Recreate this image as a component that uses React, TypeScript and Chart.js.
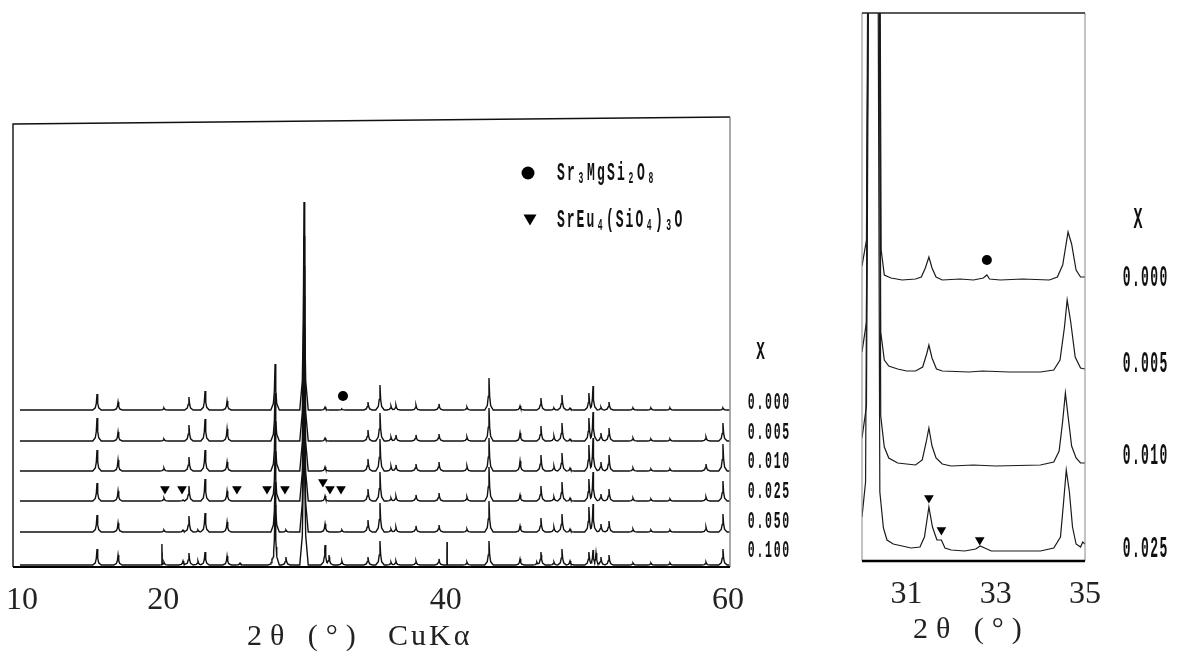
import React, { useEffect, useRef } from "react";
import { Chart, registerables } from "chart.js";

Chart.register(...registerables);

// ---------------- Left panel (2θ 10–60°) ----------------
const LEFT_SERIES_LABELS = ["0.000", "0.005", "0.010", "0.025", "0.050", "0.100"];
const LEFT_OFFSETS = [157, 126, 96, 66, 35, 2];
const LEFT_TICKS = [10, 20, 40, 60];
const LEFT_TITLE = ["2θ (°)", "CuKα"];

const PEAK_POS = [
  15.31, 16.8, 20.05, 21.4, 21.82, 22.46, 22.96, 24.52, 25.44, 27.7,
  27.92, 28.69, 29.97, 31.46, 31.74, 32.65, 34.5, 35.35, 36.13, 36.48,
  37.9, 39.53, 41.51, 43.07, 45.27, 46.47, 46.75, 47.67, 48.24, 48.81,
  50.15, 50.44, 50.65, 51.0, 51.57, 53.27, 54.54, 55.89, 58.44, 59.64,
];
const H_000 = [16, 8, 2, 0, 13, 0, 19, 9, 0, 0, 46, 0, 208, 3, 0, 1, 8, 25, 4, 5, 5, 6, 3, 32, 4, 0, 12, 2, 15, 2, 17, 24, 0, 3, 8, 2, 2, 2, 0, 2];
const H_005 = [23, 9, 2, 0, 16, 0, 22, 12, 0, 0, 48, 0, 205, 3, 0, 0, 11, 28, 4, 6, 6, 7, 4, 33, 8, 0, 15, 5, 18, 2, 23, 29, 0, 8, 13, 3, 2, 2, 4, 18];
const H_010 = [21, 11, 3, 0, 14, 0, 21, 9, 0, 0, 50, 0, 205, 4, 0, 0, 12, 32, 5, 6, 7, 9, 5, 33, 10, 0, 16, 5, 18, 3, 26, 33, 0, 9, 16, 3, 2, 2, 7, 27];
const H_025 = [18, 10, 3, 1, 15, 0, 22, 10, 0, 0, 50, 0, 205, 5, 0, 0, 12, 29, 3, 5, 6, 8, 4, 34, 6, 0, 15, 4, 19, 3, 22, 29, 0, 7, 12, 3, 2, 2, 4, 20];
const H_050 = [17, 9, 2, 2, 16, 2, 19, 10, 0, 0, 50, 2, 205, 8, 0, 2, 12, 29, 3, 5, 6, 7, 3, 31, 6, 0, 14, 5, 18, 3, 25, 28, 0, 8, 11, 3, 2, 2, 5, 18];
const H_100 = [16, 10, 3, 4, 12, 4, 13, 9, 2, 6, 60, 8, 210, 20, 10, 4, 8, 24, 3, 4, 4, 6, 3, 24, 6, 3, 13, 3, 16, 4, 13, 15, 12, 8, 10, 2, 2, 2, 3, 16];
const SPIKES_100 = [[19.91, 21], [40.1, 23]];

const LEFT_CIRCLES = [[32.73, 171]];
const LEFT_TRIANGLES = [[20.12, 78], [21.33, 78], [25.22, 78], [27.35, 78], [28.62, 78], [31.31, 85], [31.81, 78], [32.59, 78]];

// ---------------- Right panel (2θ 30–35°) ----------------
const RIGHT_TICKS = [31, 33, 35];
const RIGHT_TITLE = "2θ (°)";
const RIGHT_SERIES_LABELS = ["0.000", "0.005", "0.010", "0.025"];
const RIGHT_OFFSETS = [281, 189, 95, 9];
const R_000 = [[30.0, 14], [30.1, 40], [30.16, 600], [30.27, 3000], [30.38, 600], [30.43, 30], [30.5, 5], [30.65, 2], [30.9, 0], [31.2, 1], [31.33, 3], [31.42, 12], [31.5, 23], [31.57, 12], [31.66, 3], [31.8, 0], [32.2, 1], [32.5, 0], [32.72, 2], [32.8, 5], [32.86, 1], [33.1, 0], [33.6, 1], [34.2, 0], [34.38, 3], [34.5, 15], [34.62, 48], [34.7, 36], [34.8, 10], [34.9, 3], [35.0, 3]];
const R_005 = [[30.0, 20], [30.1, 50], [30.16, 600], [30.27, 3000], [30.38, 600], [30.42, 40], [30.5, 12], [30.6, 6], [30.8, 3], [31.0, 1], [31.2, 1], [31.36, 5], [31.45, 18], [31.5, 27], [31.57, 14], [31.67, 3], [31.8, 1], [32.4, 0], [32.7, 1], [33.3, 0], [34.0, 0], [34.3, 2], [34.44, 12], [34.54, 45], [34.6, 72], [34.68, 50], [34.78, 15], [34.9, 4], [35.0, 3]];
const R_010 = [[30.0, 28], [30.1, 60], [30.16, 600], [30.27, 3000], [30.38, 600], [30.42, 50], [30.5, 19], [30.6, 8], [30.8, 3], [31.0, 2], [31.2, 1], [31.35, 6], [31.44, 24], [31.5, 38], [31.57, 20], [31.66, 8], [31.8, 2], [32.0, 0], [32.5, 1], [33.0, 0], [34.0, 1], [34.3, 4], [34.42, 15], [34.5, 45], [34.56, 73], [34.62, 50], [34.7, 20], [34.8, 8], [34.9, 3], [35.0, 3]];
const R_025 = [[30.0, 35], [30.08, 70], [30.14, 600], [30.25, 3000], [30.36, 600], [30.4, 60], [30.48, 24], [30.56, 12], [30.7, 8], [30.9, 6], [31.1, 4], [31.3, 5], [31.4, 15], [31.5, 45], [31.58, 25], [31.68, 12], [31.78, 12], [31.86, 4], [32.0, 2], [32.3, 1], [32.55, 3], [32.65, 6], [32.75, 4], [32.9, 1], [33.5, 1], [34.0, 1], [34.3, 4], [34.45, 15], [34.52, 50], [34.58, 82], [34.65, 60], [34.72, 25], [34.8, 8], [34.9, 5], [34.95, 10], [35.0, 8]];
const RIGHT_CIRCLES = [[32.8, 301]];
const RIGHT_TRIANGLES = [[31.5, 63], [31.78, 31], [32.64, 21]];

const LEGEND_ITEMS = ["Sr₃MgSi₂O₈", "SrEu₄(SiO₄)₃O"];
const X_SYMBOL = "X";

// ---------------- helpers ----------------
// peak profile: (half-width in degrees, fraction of peak height)
const PROFILE = [[0, 1], [0.05, 0.42], [0.12, 0.14], [0.3, 0]];
const SPIKE_PROFILE = [[0, 1], [0.008, 0.6], [0.02, 0]];

type Shape = { p: number; h: number; prof: number[][] };

function shapeVal(s: Shape, x: number) {
  const d = Math.abs(x - s.p);
  const pr = s.prof;
  for (let k = 0; k < pr.length - 1; k++) {
    const [d0, f0] = pr[k];
    const [d1, f1] = pr[k + 1];
    if (d >= d0 && d <= d1) return s.h * (f0 + ((f1 - f0) * (d - d0)) / (d1 - d0));
  }
  return 0;
}

function buildTrace(heights: number[], offset: number, spikes: number[][], xmin: number, xmax: number) {
  const shapes: Shape[] = [];
  PEAK_POS.forEach((p, i) => {
    const h = heights[i];
    if (h > 0) shapes.push({ p, h, prof: PROFILE });
  });
  spikes.forEach(([p, h]) => shapes.push({ p, h, prof: SPIKE_PROFILE }));
  const xs = new Set<number>([xmin, xmax]);
  shapes.forEach((s) =>
    s.prof.forEach(([d]) => {
      xs.add(+(s.p - d).toFixed(4));
      xs.add(+(s.p + d).toFixed(4));
    })
  );
  const sorted = [...xs].filter((x) => x >= xmin && x <= xmax).sort((a, b) => a - b);
  return sorted.map((x) => ({ x, y: offset + Math.max(0, ...shapes.map((s) => shapeVal(s, x))) }));
}

const SUBS: Record<string, string> = { "₀": "0", "₁": "1", "₂": "2", "₃": "3", "₄": "4", "₅": "5", "₆": "6", "₇": "7", "₈": "8", "₉": "9" };

function drawMono(ctx: CanvasRenderingContext2D, text: string, x: number, cy: number, size: number, adv: number, sx: number) {
  ctx.save();
  ctx.fillStyle = "#111";
  ctx.textAlign = "center";
  ctx.textBaseline = "middle";
  [...text].forEach((ch, i) => {
    const sub = SUBS[ch];
    const c = sub ?? ch;
    const fs = sub ? size * 0.62 : size;
    ctx.save();
    ctx.font = `bold ${fs}px "Liberation Mono"`;
    ctx.translate(x + (i + 0.5) * adv, cy + (sub ? size * 0.22 : 0));
    ctx.scale(sx, 1);
    ctx.fillText(c, 0, 0);
    ctx.restore();
  });
  ctx.restore();
}

function tri(ctx: CanvasRenderingContext2D, cx: number, cy: number, w: number, h: number) {
  ctx.beginPath();
  ctx.moveTo(cx - w / 2, cy - h / 2);
  ctx.lineTo(cx + w / 2, cy - h / 2);
  ctx.lineTo(cx, cy + h / 2);
  ctx.closePath();
  ctx.fill();
}

const SERIF = '"Liberation Serif", "DejaVu Serif", serif';

function markerSets(circles: number[][], triangles: number[][], r: number) {
  return [
    {
      data: circles.map(([x, y]) => ({ x, y })),
      showLine: false,
      pointStyle: "circle",
      pointRadius: r,
      pointBackgroundColor: "#000",
      pointBorderColor: "#000",
      pointBorderWidth: 0,
    },
    {
      data: triangles.map(([x, y]) => ({ x, y })),
      showLine: false,
      pointStyle: "triangle",
      pointRotation: 180,
      pointRadius: r + 0.6,
      pointBackgroundColor: "#000",
      pointBorderColor: "#000",
      pointBorderWidth: 0,
    },
  ];
}

const leftPlugin = {
  id: "leftDecor",
  afterDraw(chart: any) {
    const ctx: CanvasRenderingContext2D = chart.ctx;
    const a = chart.chartArea;
    ctx.save();
    ctx.strokeStyle = "#111";
    ctx.lineWidth = 1.4;
    ctx.beginPath();
    ctx.moveTo(a.left, a.bottom);
    ctx.lineTo(a.left, a.top + 4);
    ctx.lineTo(a.right, a.top - 3);
    ctx.stroke();
    ctx.strokeStyle = "#555";
    ctx.lineWidth = 1;
    ctx.beginPath();
    ctx.moveTo(a.right, a.top - 3);
    ctx.lineTo(a.right, a.bottom);
    ctx.stroke();
    ctx.strokeStyle = "#000";
    ctx.lineWidth = 2;
    ctx.beginPath();
    ctx.moveTo(a.left, a.bottom);
    ctx.lineTo(a.right, a.bottom);
    ctx.stroke();

    // legend
    ctx.fillStyle = "#000";
    ctx.beginPath();
    ctx.arc(528, 173, 6.5, 0, Math.PI * 2);
    ctx.fill();
    tri(ctx, 530, 220, 13, 11);
    drawMono(ctx, LEGEND_ITEMS[0], 556, 173, 26, 10, 0.5);
    drawMono(ctx, LEGEND_ITEMS[1], 556, 220, 26, 9.8, 0.5);

    // series labels
    drawMono(ctx, X_SYMBOL, 756, 352, 26, 9, 0.55);
    const ys = [403, 433, 462, 492, 522, 551];
    LEFT_SERIES_LABELS.forEach((t, i) => drawMono(ctx, t, 747, ys[i], 23, 8.6, 0.5));

    // axis title
    ctx.fillStyle = "#222";
    ctx.font = `30px ${SERIF}`;
    ctx.textAlign = "left";
    ctx.textBaseline = "middle";
    (ctx as any).letterSpacing = "8px";
    ctx.fillText(LEFT_TITLE[0], 247, 637);
    (ctx as any).letterSpacing = "3px";
    ctx.fillText(LEFT_TITLE[1], 388, 637);
    (ctx as any).letterSpacing = "0px";
    ctx.restore();
  },
};

const RX = 840;
const rightPlugin = {
  id: "rightDecor",
  afterDraw(chart: any) {
    const ctx: CanvasRenderingContext2D = chart.ctx;
    const a = chart.chartArea;
    ctx.save();
    ctx.strokeStyle = "#888";
    ctx.lineWidth = 1;
    ctx.beginPath();
    ctx.moveTo(a.left, a.bottom);
    ctx.lineTo(a.left, a.top);
    ctx.moveTo(a.right, a.top);
    ctx.lineTo(a.right, a.bottom);
    ctx.stroke();
    ctx.strokeStyle = "#222";
    ctx.lineWidth = 1.3;
    ctx.beginPath();
    ctx.moveTo(a.left, a.top);
    ctx.lineTo(a.right, a.top);
    ctx.stroke();
    ctx.strokeStyle = "#000";
    ctx.lineWidth = 2.5;
    ctx.beginPath();
    ctx.moveTo(a.left, a.bottom);
    ctx.lineTo(a.right, a.bottom);
    ctx.stroke();

    drawMono(ctx, X_SYMBOL, 1133 - RX, 220, 30, 10, 0.5);
    const ys = [279, 365, 457, 550];
    RIGHT_SERIES_LABELS.forEach((t, i) => drawMono(ctx, t, 1122 - RX, ys[i], 29, 9.2, 0.45));

    ctx.fillStyle = "#222";
    ctx.font = `30px ${SERIF}`;
    ctx.textAlign = "left";
    ctx.textBaseline = "middle";
    (ctx as any).letterSpacing = "8px";
    ctx.fillText(RIGHT_TITLE, 913 - RX, 630);
    (ctx as any).letterSpacing = "0px";
    ctx.restore();
  },
};

function xScale(min: number, max: number, ticks: number[], height: number) {
  return {
    type: "linear",
    min,
    max,
    grid: { display: false, drawTicks: false },
    border: { display: false },
    afterBuildTicks: (s: any) => {
      s.ticks = ticks.map((v) => ({ value: v }));
    },
    afterFit: (s: any) => {
      s.height = height;
      s.paddingLeft = 0;
      s.paddingRight = 0;
    },
    ticks: { font: { family: SERIF, size: 32 }, color: "#222", padding: 14, maxRotation: 0, autoSkip: false },
  };
}

function leftConfig(): any {
  const traces = [H_000, H_005, H_010, H_025, H_050, H_100].map((h, i) => ({
    data: buildTrace(h, LEFT_OFFSETS[i], i === 5 ? SPIKES_100 : [], 9.85, 60.1),
    borderColor: "#111",
    borderWidth: 1.4,
    pointRadius: 0,
    tension: 0,
    fill: false,
  }));
  return {
    type: "line",
    data: { datasets: [...traces, ...markerSets(LEFT_CIRCLES, LEFT_TRIANGLES, 5)] },
    options: {
      responsive: false,
      animation: false,
      events: [],
      layout: { padding: { left: 13, right: 100, top: 120, bottom: 26 } },
      plugins: { legend: { display: false }, tooltip: { enabled: false } },
      scales: {
        x: xScale(9.36, 60.14, LEFT_TICKS, 60),
        y: { display: false, min: 0, max: 447 },
      },
    },
    plugins: [leftPlugin],
  };
}

function rightConfig(): any {
  const traces = [R_000, R_005, R_010, R_025].map((arr, i) => ({
    data: arr.map(([x, h]) => ({ x, y: RIGHT_OFFSETS[i] + h })),
    borderColor: "#1a1a1a",
    borderWidth: 1.2,
    pointRadius: 0,
    tension: 0,
    fill: false,
  }));
  return {
    type: "line",
    data: { datasets: [...traces, ...markerSets(RIGHT_CIRCLES, RIGHT_TRIANGLES, 5)] },
    options: {
      responsive: false,
      animation: false,
      events: [],
      layout: { padding: { left: 22, right: 93, top: 13, bottom: 42 } },
      plugins: { legend: { display: false }, tooltip: { enabled: false } },
      scales: {
        x: xScale(30, 35, RIGHT_TICKS, 50),
        y: { display: false, min: 0, max: 548 },
      },
    },
    plugins: [rightPlugin],
  };
}

export default function App() {
  const leftRef = useRef<HTMLCanvasElement>(null);
  const rightRef = useRef<HTMLCanvasElement>(null);
  useEffect(() => {
    const l = new Chart(leftRef.current as HTMLCanvasElement, leftConfig());
    const r = new Chart(rightRef.current as HTMLCanvasElement, rightConfig());
    return () => {
      l.destroy();
      r.destroy();
    };
  }, []);
  return (
    <div style={{ position: "absolute", left: 0, top: 0, width: 1178, height: 653, background: "#fff" }}>
      <canvas ref={leftRef} width={830} height={653} style={{ position: "absolute", left: 0, top: 0, width: 830, height: 653 }} />
      <canvas ref={rightRef} width={338} height={653} style={{ position: "absolute", left: RX, top: 0, width: 338, height: 653 }} />
    </div>
  );
}
